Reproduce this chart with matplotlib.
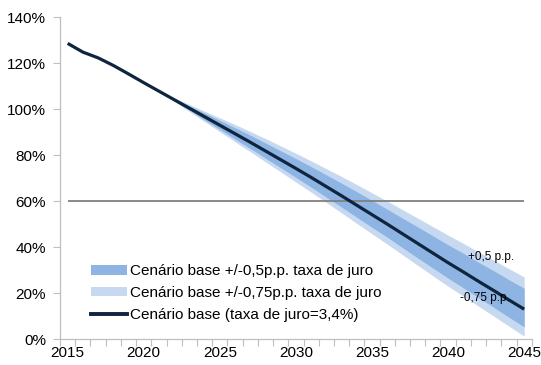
#!/usr/bin/env python3
"""Debt ratio projection with interest rate sensitivity bands."""

import matplotlib

matplotlib.use("Agg")
import matplotlib.pyplot as plt
from matplotlib.patches import Patch
from matplotlib.lines import Line2D
from matplotlib.ticker import FixedLocator, FuncFormatter

plt.rcParams["font.family"] = ["Liberation Sans", "DejaVu Sans"]

years = list(range(2015, 2046))
base = [128.6, 124.8, 122.3, 119.0, 115.3, 111.5, 107.8, 104.1, 100.4, 96.7,
        93.0, 89.3, 85.6, 81.8, 78.0, 74.2, 70.3, 66.3, 62.3, 58.2,
        54.1, 50.0, 45.8, 41.6, 37.4, 33.2, 29.2, 25.1, 21.1, 17.0, 13.0]

# bands start in 2021
band_years = list(range(2021, 2046))
hi_075 = [107.8, 104.9, 102.0, 99.1, 96.2, 93.3, 90.3, 87.2, 84.0, 80.8,
          77.5, 74.1, 70.7, 67.2, 63.6, 60.0, 56.3, 52.6, 48.9, 45.2,
          41.6, 37.9, 34.3, 30.6, 27.0]
lo_075 = [107.8, 103.4, 99.0, 94.6, 90.2, 85.8, 81.5, 77.1, 72.7, 68.3,
          63.9, 59.4, 54.9, 50.3, 45.8, 41.3, 36.7, 32.1, 27.5, 23.0,
          18.7, 14.3, 10.0, 5.6, 1.3]
hi_05 = [107.8, 104.6, 101.4, 98.3, 95.1, 91.9, 88.7, 85.3, 81.9, 78.5,
         75.0, 71.4, 67.8, 64.1, 60.3, 56.5, 52.6, 48.8, 44.9, 41.0,
         37.3, 33.4, 29.7, 25.8, 22.1]
lo_05 = [107.8, 103.6, 99.5, 95.3, 91.2, 87.0, 82.9, 78.7, 74.5, 70.3,
         66.1, 61.7, 57.4, 53.0, 48.6, 44.3, 39.8, 35.3, 30.9, 26.5,
         22.3, 18.0, 13.8, 9.5, 5.3]

reference_level = 60
y_ticks = [0, 20, 40, 60, 80, 100, 120, 140]
label_years = [2015, 2020, 2025, 2030, 2035, 2040, 2045]

legend_labels = [
    "Cenário base +/-0,5p.p. taxa de juro",
    "Cenário base +/-0,75p.p. taxa de juro",
    "Cenário base (taxa de juro=3,4%)",
]

C_INNER = "#8db4e2"
C_OUTER = "#c6d9f1"
C_BASE = "#0f243e"
C_AXIS = "#bfbfbf"

fig = plt.figure(figsize=(5.41, 3.65), dpi=100)
ax = fig.add_axes([0.111, 0.071, 0.872, 0.882])

x = [y - years[0] for y in years]
bx = [y - years[0] for y in band_years]

ax.fill_between(bx, lo_075, hi_075, color=C_OUTER, linewidth=0)
ax.fill_between(bx, lo_05, hi_05, color=C_INNER, linewidth=0)
ax.hlines(reference_level, x[0], x[-1], color="#808080", linewidth=1.3)
ax.plot(x, base, color=C_BASE, linewidth=2.3, solid_capstyle="butt")

ax.set_xlim(-0.5, len(years) - 0.5)
ax.set_ylim(0, 140)

ax.yaxis.set_major_locator(FixedLocator(y_ticks))
ax.yaxis.set_major_formatter(FuncFormatter(lambda v, _: f"{v:.0f}%"))

# category boundaries carry the ticks, labels sit at the centres
ax.xaxis.set_minor_locator(FixedLocator([i - 0.5 for i in range(len(years) + 1)]))
ax.xaxis.set_major_locator(FixedLocator([y - years[0] for y in label_years]))
ax.xaxis.set_major_formatter(FuncFormatter(lambda v, _: f"{int(round(v)) + years[0]}"))
ax.tick_params(axis="x", which="major", length=0, pad=5)
ax.tick_params(axis="x", which="minor", length=5, width=0.8, color=C_AXIS)
ax.tick_params(axis="y", length=5, width=0.8, color=C_AXIS, pad=5)
ax.tick_params(labelsize=11, labelcolor="black")

for side in ("top", "right"):
    ax.spines[side].set_visible(False)
for side in ("left", "bottom"):
    ax.spines[side].set_color(C_AXIS)
    ax.spines[side].set_linewidth(0.9)

ax.text(27.8, 35.6, "+0,5 p.p.", fontsize=8.5, ha="center", va="center")
ax.text(27.4, 17.8, "-0,75 p.p.", fontsize=8.5, ha="center", va="center")

handles = [
    Patch(facecolor=C_INNER, edgecolor="none"),
    Patch(facecolor=C_OUTER, edgecolor="none"),
    Line2D([], [], color=C_BASE, linewidth=2.8),
]
ax.legend(handles, legend_labels, loc="lower left", bbox_to_anchor=(0.052, 0.035),
          frameon=False, fontsize=11, handlelength=2.4, handleheight=0.55,
          handletextpad=0.2, labelspacing=0.5, borderaxespad=0)

fig.savefig("out.png", dpi=100)
